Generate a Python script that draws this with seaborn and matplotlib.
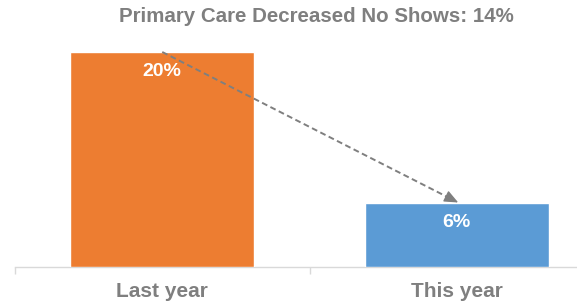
import matplotlib
matplotlib.use("Agg")
import matplotlib.pyplot as plt
import seaborn as sns
import pandas as pd

categories = ["Last year", "This year"]
values = [20, 6]
labels = ["20%", "6%"]
title = "Primary Care Decreased No Shows: 14%"
colors = ["#ED7D31", "#5B9BD5"]

sns.set_theme(style="white")
plt.rcParams['font.family'] = ['Liberation Sans', 'DejaVu Sans']

W, H = 577, 308
fig = plt.figure(figsize=(W / 100, H / 100), dpi=100)
# axes: x from 15 px to right edge, baseline at y=267, top at y=31
left, right = 15, 577
base, top = 267, 31
ax = fig.add_axes([left / W, (H - base) / H, (right - left) / W, (base - top) / H])

df = pd.DataFrame({"cat": categories, "val": values})
sns.barplot(data=df, x="cat", y="val", hue="cat", palette=colors, width=0.625,
            legend=False, ax=ax, saturation=1, zorder=3)

for s in ["top", "right", "left"]:
    ax.spines[s].set_visible(False)
ax.spines["bottom"].set_color("#D9D9D9")
ax.spines["bottom"].set_linewidth(1.0)
ax.set_yticks([])
ax.set_xlabel("")
ax.set_ylabel("")
ax.set_xticks([-0.5, 0.5], minor=True)
ax.tick_params(axis="x", which="minor", length=5, color="#D9D9D9", width=1, bottom=True)
ax.tick_params(axis="x", which="major", length=0, pad=11, labelsize=15, labelcolor="#7F7F7F")
for t in ax.get_xticklabels():
    t.set_fontweight("bold")

span = 2 * (right - left) / (604 - left)  # visible part of the category space
ax.set_xlim(-0.5, -0.5 + span)
ymax = values[0] * (base - top) / (base - 52)
ax.set_ylim(0, ymax)

for i, (v, lab) in enumerate(zip(values, labels)):
    ax.text(i, v - 1.85, lab, ha="center", va="center", color="white",
            fontsize=14, fontweight="bold", zorder=6)

# dashed arrow from top of first bar to top of second
x0, y0 = 0, values[0]
x1, y1 = 1.005, values[1]
gray = "#7F7F7F"
frac = 0.03
xm = x1 - frac
ym = y1 + (y0 - y1) * frac / (x1 - x0)
ax.plot([x0, xm], [y0, ym], linestyle=(0, (3, 1.8)), color=gray,
        linewidth=1.4, zorder=4)
ax.annotate("", xy=(x1, y1), xytext=(xm, ym),
            arrowprops=dict(arrowstyle="-|>,head_length=0.7,head_width=0.3",
                            color=gray, linewidth=1.0, shrinkA=0, shrinkB=0),
            zorder=4)

fig.text(316.5 / W, 1 - 17 / H, title, ha="center", va="center", color="#7F7F7F",
         fontsize=14.8, fontweight="bold")

fig.savefig("out.png", dpi=100)
